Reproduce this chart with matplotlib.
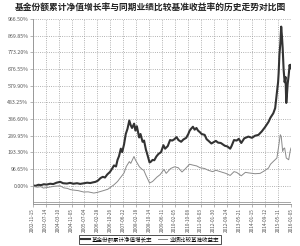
import numpy as np
import pandas as pd
from matplotlib import pyplot as plt

plt.rcParams['font.family'] = ['Noto Sans CJK SC', 'DejaVu Sans']

### data (values in %) ###
fund_dates = ['2002-11-15', '2003-01-10', '2003-03-01', '2003-04-20', '2003-06-10', '2003-08-01',
              '2003-10-05', '2003-12-01', '2004-02-01', '2004-04-09', '2004-06-01', '2004-08-12',
              '2004-10-10', '2004-12-10', '2005-02-16', '2005-04-15', '2005-06-10', '2005-08-23',
              '2005-10-20', '2005-12-10', '2006-01-25', '2006-03-10', '2006-04-29', '2006-06-10',
              '2006-07-20', '2006-09-01', '2006-10-20', '2006-12-01', '2007-01-03', '2007-02-10',
              '2007-03-10', '2007-04-07', '2007-05-10', '2007-06-05', '2007-07-09', '2007-08-10',
              '2007-09-11', '2007-10-15', '2007-11-11', '2007-12-05', '2008-01-12', '2008-02-05',
              '2008-03-03', '2008-04-15', '2008-05-10', '2008-06-17', '2008-07-15', '2008-08-18',
              '2008-09-20', '2008-10-25', '2008-11-20', '2008-12-20', '2009-01-21', '2009-03-01',
              '2009-04-10', '2009-05-26', '2009-07-10', '2009-08-10', '2009-09-28', '2009-11-10',
              '2009-12-20', '2010-01-30', '2010-03-10', '2010-04-15', '2010-06-04', '2010-07-15',
              '2010-09-06', '2010-10-15', '2010-11-07', '2010-12-05', '2011-01-09', '2011-02-10',
              '2011-03-15', '2011-04-13', '2011-05-20', '2011-06-20', '2011-08-15', '2011-09-20',
              '2011-10-20', '2011-12-18', '2012-02-10', '2012-03-10', '2012-04-21', '2012-06-10',
              '2012-08-23', '2012-10-10', '2012-12-01', '2012-12-26', '2013-02-10', '2013-03-30',
              '2013-05-10', '2013-06-25', '2013-08-20', '2013-11-04', '2014-01-10', '2014-03-08',
              '2014-05-10', '2014-07-11', '2014-09-10', '2014-11-13', '2014-12-20', '2015-02-10',
              '2015-03-17', '2015-04-18', '2015-05-10', '2015-05-20', '2015-06-04', '2015-06-20',
              '2015-07-07', '2015-07-20', '2015-08-03', '2015-08-21', '2015-09-09', '2015-09-25',
              '2015-10-09', '2015-10-20', '2015-11-04', '2015-11-23', '2015-12-10', '2015-12-23',
              '2016-01-05']
fund_growth = [2, 0, 6, 4, 9, 7,
               12, 10, 18, 23, 15, 13,
               17, 12, 15, 11, 14, 18,
               16, 20, 23, 30, 45, 52,
               48, 66, 80, 100, 118, 112,
               150, 172, 215, 195, 240, 300,
               330, 378, 350, 335, 360, 320,
               345, 280, 300, 255, 262, 210,
               175, 135, 140, 150, 148, 170,
               185, 195, 235, 215, 230, 265,
               262, 270, 282, 265, 255, 268,
               278, 300, 318, 330, 342, 325,
               335, 320, 310, 300, 295, 270,
               262, 245, 255, 260, 250, 248,
               232, 228, 215, 230, 265, 262,
               272, 248, 275, 285, 278, 290,
               295, 315, 340, 370, 395, 420,
               450, 540, 600, 650, 760, 820,
               922, 870, 800, 672, 600, 630,
               480, 520, 590, 640, 700, 680,
               700]

bench_dates = ['2002-11-15', '2003-02-10', '2003-04-15', '2003-06-01', '2003-08-10', '2003-10-20',
               '2004-01-10', '2004-04-09', '2004-06-15', '2004-08-20', '2004-10-15', '2004-12-20',
               '2005-03-10', '2005-06-20', '2005-09-10', '2005-12-25', '2006-03-01', '2006-06-20',
               '2006-09-10', '2007-01-03', '2007-03-10', '2007-05-20', '2007-07-10', '2007-08-20',
               '2007-10-15', '2007-11-11', '2008-01-10', '2008-02-05', '2008-03-10', '2008-04-20',
               '2008-06-10', '2008-07-10', '2008-08-20', '2008-09-20', '2008-10-25', '2008-12-20',
               '2009-01-21', '2009-03-10', '2009-05-10', '2009-07-20', '2009-08-30', '2009-11-20',
               '2010-01-30', '2010-04-10', '2010-06-20', '2010-08-10', '2010-11-07', '2011-01-09',
               '2011-03-20', '2011-05-20', '2011-08-15', '2011-10-20', '2012-01-10', '2012-03-10',
               '2012-06-20', '2012-09-10', '2012-12-01', '2013-02-10', '2013-03-30', '2013-06-25',
               '2013-09-10', '2013-11-04', '2014-03-08', '2014-06-10', '2014-08-20', '2014-11-13',
               '2014-12-20', '2015-02-10', '2015-04-18', '2015-05-25', '2015-06-20', '2015-07-07',
               '2015-07-25', '2015-08-03', '2015-08-20', '2015-09-09', '2015-10-09', '2015-11-23',
               '2015-12-20', '2016-01-05']
bench_growth = [-3, -8, -5, -13, -10, -6,
                -2, 0, -12, -15, -22, -25,
                -28, -36, -35, -42, -38, -28,
                -20, 6, 25, 54, 75, 112,
                140, 130, 170, 150, 132, 110,
                95, 90, 60, 40, 16, 25,
                35, 50, 65, 95, 72, 100,
                110, 105, 80, 95, 125, 120,
                115, 105, 100, 90, 82, 90,
                80, 72, 60, 82, 78, 58,
                78, 75, 70, 72, 85, 103,
                125, 141, 161, 238, 296, 286,
                230, 199, 215, 219, 161, 151,
                200, 219]

xtick_labels = ['2002-11-15', '2003-07-14', '2004-03-10', '2004-11-05', '2005-07-04',
                '2006-02-28', '2006-10-26', '2007-06-22', '2008-02-18', '2008-10-14',
                '2009-06-11', '2010-02-05', '2010-10-08', '2011-06-03', '2012-01-30',
                '2012-09-24', '2013-05-21', '2014-01-15', '2014-09-12', '2015-05-11',
                '2016-01-05']
ytick_values = [0.00, 96.65, 193.30, 289.95, 386.60, 483.25, 579.90, 676.55, 773.20, 869.85, 966.50]

series_names = ['基金份额累计净值增长率', '业绩比较基准收益率']

fig = plt.figure(figsize=(3.0, 2.46), dpi=100)
ax = fig.add_axes([0.109, 0.171, 0.861, 0.752])

ax.plot(pd.to_datetime(fund_dates), fund_growth, color='#333333', linewidth=1.5, label=series_names[0])
ax.plot(pd.to_datetime(bench_dates), bench_growth, color='#8a8a8a', linewidth=0.7, label=series_names[1])

xt = pd.to_datetime(xtick_labels)
ax.set_xlim(xt[0], xt[-1])
ax.set_xticks(xt)
ax.set_xticklabels(xtick_labels, rotation=90, fontsize=3.4, color='#555555')
ax.set_ylim(-105, 966.5)
ax.set_yticks(ytick_values)
ax.set_yticklabels(['%.2f%%' % v for v in ytick_values], fontsize=3.8, color='#555555')
ax.axhline(-96.65, color='#999999', linewidth=0.6)
ax.grid(True, linestyle=':', color='#999999', linewidth=0.6)
ax.tick_params(length=2, width=0.5, color='#999999', pad=1)
for side in ['top', 'right']:
    ax.spines[side].set_visible(False)
for side in ['left', 'bottom']:
    ax.spines[side].set_color('#999999')
    ax.spines[side].set_linewidth(0.7)

fig.text(0.5, 0.972, '基金份额累计净值增长率与同期业绩比较基准收益率的历史走势对比图',
         ha='center', va='center', fontsize=6.3, fontweight='bold', color='#222222')

leg = fig.legend(loc='center', bbox_to_anchor=(0.5, 0.027), ncol=2, fontsize=4,
                 frameon=True, fancybox=False, edgecolor='black', handlelength=1.6,
                 columnspacing=1.0, borderpad=0.3, handletextpad=0.4)
leg.get_frame().set_linewidth(0.6)

fig.savefig('out.png', dpi=100)
